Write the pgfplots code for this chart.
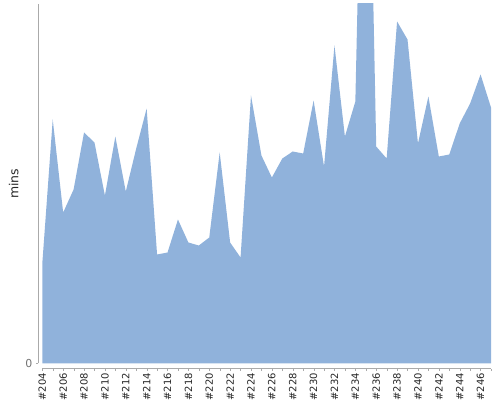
\documentclass[border=0pt]{standalone}
\usepackage{fontspec}
\setmainfont{DejaVu Sans}
\usepackage{pgfplots}
\pgfplotsset{compat=1.18}
\definecolor{areablue}{RGB}{144,178,219}
\definecolor{axisgray}{RGB}{170,170,170}
\begin{document}
\begin{tikzpicture}
\path[use as bounding box] (0,0) rectangle (500bp,400bp);
\begin{axis}[
  at={(42.3bp,36.5bp)}, anchor=south west,
  scale only axis,
  width=448.7bp, height=359.5bp,
  xmin=0, xmax=43, ymin=0, ymax=359.5,
  axis lines*=left,
  axis x line shift=5bp,
  axis y line shift=4bp,
  axis line style={axisgray},
  tick align=outside,
  major tick length=2.5bp,
  tick style={axisgray},
  xtick={0,...,43},
  xticklabels={\#204,,\#206,,\#208,,\#210,,\#212,,\#214,,\#216,,\#218,,\#220,,\#222,,\#224,,\#226,,\#228,,\#230,,\#232,,\#234,,\#236,,\#238,,\#240,,\#242,,\#244,,\#246,},
  xticklabel style={rotate=90, anchor=east, font=\fontsize{10}{11}\selectfont, text=black!85, inner sep=2bp},
  ytick={0}, yticklabels={0},
  yticklabel style={font=\fontsize{11}{12}\selectfont, text=black!55},
  ylabel={mins},
  y label style={at={(rel axis cs:0,0.5)}, anchor=center, yshift=28.5bp, font=\fontsize{12.5}{14}\selectfont, text=black!85},
]
\addplot[fill=areablue, draw=none] coordinates {
  (0,100) (1,244) (2,151) (3,174) (4,231) (5,221) (6,168) (7,227)
  (8,172) (9,215) (10,255) (11,109) (12,111) (13,144) (14,121) (15,118)
  (16,126) (17,211) (18,121) (19,106) (20,268) (21,208) (22,186) (23,205)
  (24,212) (25,210) (26,263) (27,197) (28,318) (29,227) (30,262) (31,735)
  (32,217) (33,205) (34,342) (35,324) (36,220) (37,267) (38,207) (39,209)
  (40,240) (41,260) (42,289) (43,256)
} \closedcycle;
\end{axis}
\end{tikzpicture}
\end{document}
